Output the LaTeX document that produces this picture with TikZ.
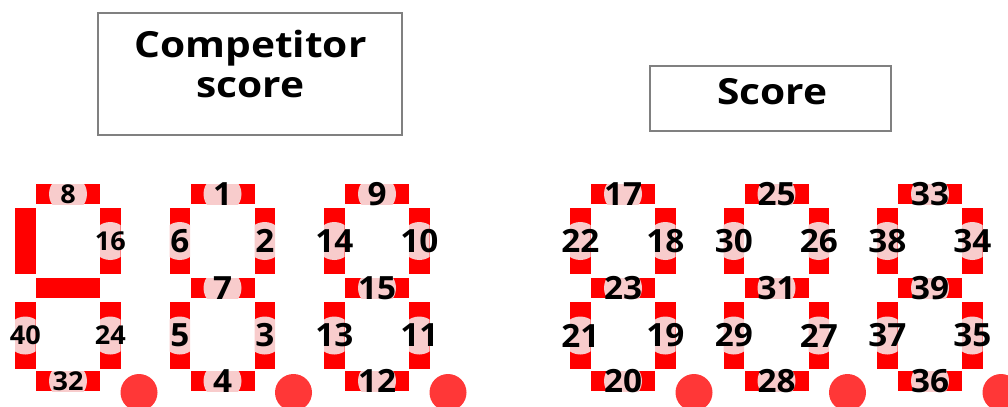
\documentclass[tikz,border=0pt]{standalone}
\usepackage{fontspec}
\usepackage{graphicx}
\IfFontExistsTF{Noto Sans Bold}{%
  \newfontfamily\lblfont{Noto Sans Bold}}{%
  \IfFontExistsTF{Open Sans Bold}{%
    \newfontfamily\lblfont{Open Sans Bold}}{%
    \newfontfamily\lblfont{Noto Sans}[FakeBold=2.5]}}
\newcommand\widen[2]{\scalebox{#1}[1]{#2}}
\definecolor{segred}{RGB}{255,0,0}
\definecolor{segpink}{RGB}{248,204,204}
\definecolor{dotred}{RGB}{255,55,55}
\definecolor{boxgray}{RGB}{128,128,128}
\tikzset{
  segfill/.style={fill=segred},
  pinkfill/.style={fill=segpink},
  dotfill/.style={fill=dotred},
  lbl/.style={font=\lblfont\fontsize{24}{26}\selectfont, inner sep=0pt, text=black},
  smalllbl/.style={font=\lblfont\fontsize{19.5}{22}\selectfont, inner sep=0pt, text=black},
  titlebox/.style={draw=boxgray, line width=1.8pt, fill=white, inner sep=0pt},
  titletext/.style={font=\lblfont\fontsize{27}{30}\selectfont, inner sep=0pt, anchor=base},
}
\newcommand\seg[7]{%
  \fill[segfill] (#2,#3) rectangle (#4,#5);
  \coordinate (#1) at ({(#2+#4)/2},{(#3+#5)/2});
  \if\relax\detokenize{#6}\relax\else
    \begin{scope}
      \clip (#2,#3) rectangle (#4,#5);
      \fill[pinkfill] (#1) circle[radius=19];
    \end{scope}
    \node[lbl] (#1-t) at (#1) {\widen{#7}{#6}};
  \fi}
\newcommand\lblstretch{1.04}
\newcommand\digitset[9]{%
  \seg{#1a}{#2+21}{184}{#2+85}{204}{#3}{\lblstretch}
  \seg{#1b}{#2+85}{208}{#2+105.5}{274}{#4}{\lblstretch}
  \seg{#1c}{#2+85}{302}{#2+105.5}{369}{#5}{\lblstretch}
  \seg{#1d}{#2+21}{371}{#2+85}{391}{#6}{\lblstretch}
  \seg{#1e}{#2}{302}{#2+20.5}{369}{#7}{\lblstretch}
  \seg{#1f}{#2}{208}{#2+20.5}{274}{#8}{\lblstretch}
  \seg{#1g}{#2+21}{278}{#2+85}{298}{#9}{\lblstretch}
  \fill[dotfill] (#2+124,392.5) circle[radius=18.5];
}
\begin{document}
\begin{tikzpicture}[x=0.75pt,y=-0.75pt]
\useasboundingbox (0,0) rectangle (1008,407);
\clip (0,0) rectangle (1008,407);
% title boxes
\node[titlebox, minimum width=228pt, minimum height=91.5pt] (cbox) at (250,74) {};
\node[titletext] (ctxt1) at (250.5,57.5) {\widen{1.13}{Competitor}};
\node[titletext] (ctxt2) at (250.5,97.5) {\widen{1.13}{score}};
\node[titlebox, minimum width=180.75pt, minimum height=48.75pt] (sbox) at (770.5,98.5) {};
\node[titletext] (stxt) at (772.5,104) {\widen{1.13}{Score}};
% digits
\begin{scope}[lbl/.style={smalllbl}]
\renewcommand\lblstretch{1.04}
\digitset{dA}{15}{8}{16}{24}{32}{40}{}{}
\end{scope}
\digitset{dB}{169.5}{1}{2}{3}{4}{5}{6}{7}
\digitset{dC}{324}{9}{10}{11}{12}{13}{14}{15}
\digitset{dD}{570}{17}{18}{19}{20}{21}{22}{23}
\digitset{dE}{723.5}{25}{26}{27}{28}{29}{30}{31}
\digitset{dF}{877}{33}{34}{35}{36}{37}{38}{39}
\end{tikzpicture}
\end{document}
